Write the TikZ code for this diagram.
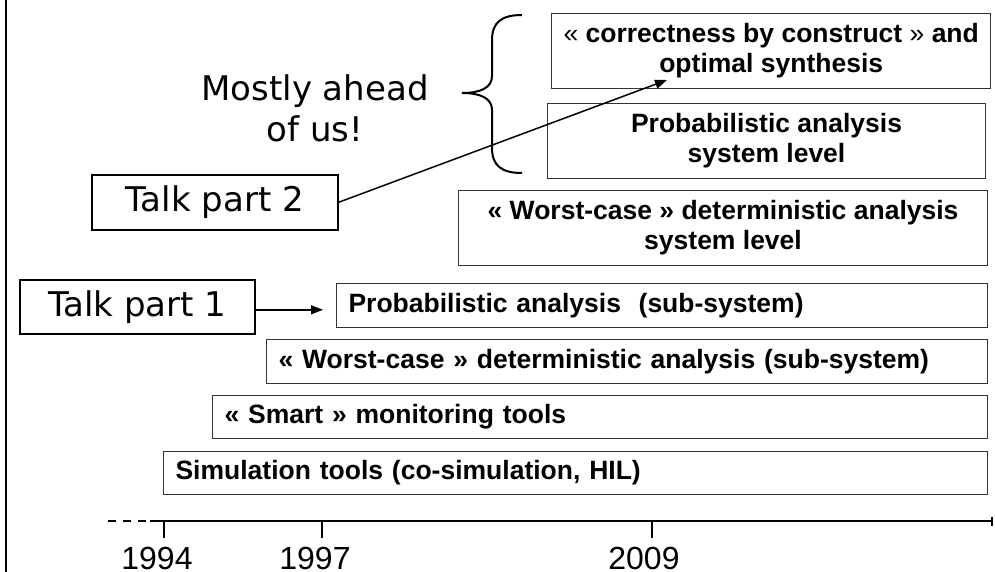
\documentclass[tikz,border=0pt]{standalone}
\usepackage{fontspec}
\setmainfont{Liberation Sans}
\newfontfamily\talkfont{DejaVu Sans}
\usetikzlibrary{arrows.meta}

\begin{document}
\begin{tikzpicture}[x=1pt,y=-1pt,
  bar/.style={draw=black!80, line width=1.1pt, inner xsep=12pt, inner ysep=0pt,
    anchor=north west, font=\bfseries\fontsize{26.5}{30}\selectfont},
  leftbar/.style={bar, align=left},
  midbar/.style={bar, align=center},
  talkbox/.style={draw=black, line width=1.6pt, inner sep=0pt, anchor=north west,
    font=\talkfont\fontsize{34}{40}\selectfont},
  conn/.style={line width=1.5pt, -{Triangle[length=12pt,width=9pt]}},
  axisline/.style={line width=2pt},
  year/.style={anchor=base, inner sep=0pt, font=\fontsize{32}{38}\selectfont}]
\useasboundingbox (0,0) rectangle (995,572);

% frame line on the left
\draw[line width=2.5pt] (6,0) -- (6,572);

% activity bars, newest on top
\node[midbar, minimum width=436pt, minimum height=75pt] (b1) at (551,13)
  {{\mdseries «} correctness by construct {\mdseries »} and\\optimal synthesis};
\node[midbar, minimum width=438pt, minimum height=75pt] (b2) at (547,103)
  {Probabilistic analysis\\system level};
\node[midbar, minimum width=529pt, minimum height=75pt] (b3) at (458,190)
  {« Worst-case » deterministic analysis\\system level};
\node[leftbar, text width=627pt, minimum height=44pt] (b4) at (336,283)
  {Probabilistic analysis~ (sub-system)};
\node[leftbar, text width=697pt, minimum height=44pt] (b5) at (266,339)
  {« Worst-case » deterministic analysis (sub-system)};
\node[leftbar, text width=751pt, minimum height=43pt] (b6) at (212,395)
  {« Smart » monitoring tools};
\node[leftbar, text width=800pt, minimum height=43pt] (b7) at (163,451)
  {Simulation tools (co-simulation, HIL)};

% brace grouping the two upper bars
\draw[line width=2pt] (522,15) .. controls (502,15) and (492,22) .. (492,40)
  -- (492,76) .. controls (492,88) and (480,93) .. (462,93)
  .. controls (480,93) and (492,98) .. (492,110)
  -- (492,148) .. controls (492,166) and (502,173) .. (522,173);
\node[align=center, inner sep=0pt, font=\talkfont\fontsize{34}{41}\selectfont] (ahead)
  at (315,108) {Mostly ahead\\of us!};

% talk markers
\node[talkbox, minimum width=246pt, minimum height=55pt] (t2) at (91,174) {Talk part 2};
\node[talkbox, minimum width=235pt, minimum height=54pt] (t1) at (19,279) {Talk part 1};
\coordinate (p2) at (667,80);
\draw[conn] (t2.east) -- (p2);
\draw[conn, shorten >=13pt] ([yshift=-3pt]t1.east) -- ([yshift=-3pt]t1.east -| b4.west);

% time axis
\coordinate (ax0) at (108,521);
\coordinate (ax1) at (150,521);
\coordinate (ax2) at (993,521);
\draw[axisline, dash pattern=on 8pt off 7pt] (ax0) -- (ax1);
\draw[axisline, -{Bar[width=9pt,line width=2pt]}] (ax1) -- (ax2);
\coordinate (y94) at (164,521);
\coordinate (y97) at (322,521);
\coordinate (y09) at (652,521);
\draw[axisline] (y94) -- ++(0,17);
\draw[axisline] (y97) -- ++(0,17);
\draw[axisline] (y09) -- ++(0,17);
\node[year] (l94) at (157,569.5) {1994};
\node[year] (l97) at (315,569.5) {1997};
\node[year] (l09) at (644,569.5) {2009};
\end{tikzpicture}
\end{document}
